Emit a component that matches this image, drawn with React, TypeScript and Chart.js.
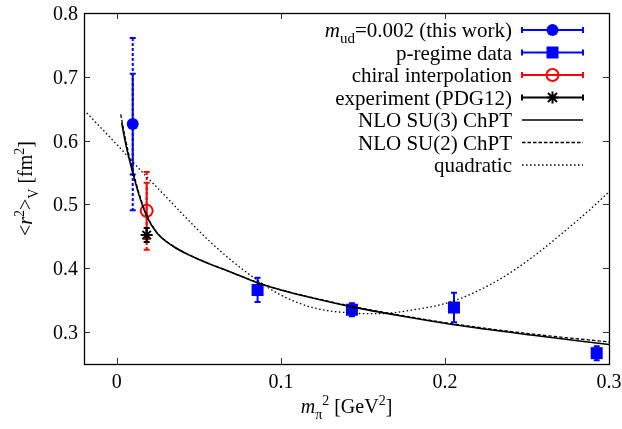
import React, { useEffect, useRef } from "react";
import { Chart, registerables } from "chart.js";

Chart.register(...registerables);

// ---------- data ----------
const xTicks = [0, 0.1, 0.2, 0.3];
const xTickLabels = ["0", "0.1", "0.2", "0.3"];
const yTicks = [0.3, 0.4, 0.5, 0.6, 0.7, 0.8];
const yTickLabels = ["0.3", "0.4", "0.5", "0.6", "0.7", "0.8"];

const thisWorkX = [0.0097];
const thisWorkY = [0.626];
const thisWorkStat = [0.079];
const thisWorkTotal = [0.135];

const pRegimeX = [0.0858, 0.1433, 0.2055, 0.2925];
const pRegimeY = [0.366, 0.335, 0.3385, 0.267];
const pRegimeErr = [0.019, 0.01, 0.023, 0.011];

const chiralX = [0.0182];
const chiralY = [0.49];
const chiralStat = [0.044];
const chiralTotal = [0.061];

const expX = [0.0182];
const expY = [0.452];
const expErr = [0.011];

const su3X = [0.003, 0.005, 0.0072, 0.0096, 0.0135, 0.018, 0.0242, 0.0343, 0.045, 0.0567, 0.07, 0.0858, 0.1, 0.12, 0.1433, 0.1726, 0.2055, 0.2537, 0.3];
const su3Y = [0.628, 0.6, 0.575, 0.551, 0.515, 0.483, 0.456, 0.4345, 0.4195, 0.4065, 0.3935, 0.3775, 0.366, 0.353, 0.3395, 0.3255, 0.3115, 0.295, 0.2805];

const su2X = [0.0024, 0.005, 0.0072, 0.0096, 0.0135, 0.018, 0.0242, 0.0343, 0.045, 0.0567, 0.07, 0.0858, 0.1, 0.12, 0.1433, 0.1726, 0.2055, 0.2537, 0.3];
const su2Y = [0.641, 0.606, 0.58, 0.555, 0.518, 0.485, 0.457, 0.435, 0.42, 0.4068, 0.3937, 0.3777, 0.3663, 0.3535, 0.3403, 0.3265, 0.3127, 0.2968, 0.2845];

const quadX = [-0.02, -0.01, 0, 0.01, 0.018, 0.03, 0.043, 0.0567, 0.07, 0.0858, 0.1, 0.12, 0.1433, 0.158, 0.18, 0.2055, 0.2315, 0.2518, 0.272, 0.2925, 0.3];
const quadY = [0.648, 0.621, 0.594, 0.566, 0.544, 0.512, 0.477, 0.442, 0.412, 0.381, 0.358, 0.338, 0.3298, 0.3288, 0.3345, 0.349, 0.38, 0.4145, 0.456, 0.5015, 0.52];

const legendLabels = [
  [{ t: "m", it: true }, { t: "ud", sub: true }, { t: "=0.002 (this work)" }],
  [{ t: "p-regime data" }],
  [{ t: "chiral interpolation" }],
  [{ t: "experiment (PDG12)" }],
  [{ t: "NLO SU(3) ChPT" }],
  [{ t: "NLO SU(2) ChPT" }],
  [{ t: "quadratic" }],
];
const yTitle = [{ t: "<" }, { t: "r", it: true }, { t: "2", sup: true }, { t: ">" }, { t: "V", sub: true }, { t: " [fm" }, { t: "2", sup: true }, { t: "]" }];
const xTitle = [{ t: "m", it: true }, { t: "π", sub: true }, { t: "2", sup: true }, { t: " [GeV" }, { t: "2", sup: true }, { t: "]" }];

// ---------- styling ----------
const BLUE = "#0000ff";
const RED = "#ff0000";
const BLACK = "#000000";
const FAM = "Liberation Serif";

type Seg = { t: string; it?: boolean; sub?: boolean; sup?: boolean };

function segFont(s: Seg, size: number) {
  const sz = s.sub || s.sup ? Math.round(size * 0.72) : size;
  return `${s.it ? "italic " : ""}${sz}px "${FAM}", serif`;
}
function richWidth(ctx: CanvasRenderingContext2D, segs: Seg[], size: number) {
  let w = 0;
  for (const s of segs) {
    ctx.font = segFont(s, size);
    w += ctx.measureText(s.t).width;
  }
  return w;
}
function drawRich(ctx: CanvasRenderingContext2D, segs: Seg[], x: number, y: number, size: number, align: "left" | "right" | "center") {
  const w = richWidth(ctx, segs, size);
  let cx = align === "left" ? x : align === "right" ? x - w : x - w / 2;
  ctx.textAlign = "left";
  ctx.textBaseline = "alphabetic";
  for (const s of segs) {
    ctx.font = segFont(s, size);
    const dy = s.sub ? size * 0.28 : s.sup ? -size * 0.42 : 0;
    ctx.fillText(s.t, cx, y + dy);
    cx += ctx.measureText(s.t).width;
  }
}

function drawMarker(ctx: CanvasRenderingContext2D, kind: string, px: number, py: number) {
  ctx.save();
  ctx.setLineDash([]);
  if (kind === "circle") {
    ctx.fillStyle = BLUE;
    ctx.beginPath();
    ctx.arc(px, py, 6, 0, Math.PI * 2);
    ctx.fill();
  } else if (kind === "square") {
    ctx.fillStyle = BLUE;
    ctx.fillRect(px - 6, py - 6, 12, 12);
  } else if (kind === "open") {
    ctx.strokeStyle = RED;
    ctx.lineWidth = 2;
    ctx.beginPath();
    ctx.arc(px, py, 6, 0, Math.PI * 2);
    ctx.stroke();
  } else if (kind === "star") {
    ctx.strokeStyle = BLACK;
    ctx.lineWidth = 2;
    ctx.beginPath();
    ctx.moveTo(px - 6, py); ctx.lineTo(px + 6, py);
    ctx.moveTo(px, py - 6); ctx.lineTo(px, py + 6);
    ctx.moveTo(px - 4.5, py - 4.5); ctx.lineTo(px + 4.5, py + 4.5);
    ctx.moveTo(px - 4.5, py + 4.5); ctx.lineTo(px + 4.5, py - 4.5);
    ctx.stroke();
  }
  ctx.restore();
}

const customPlugin = {
  id: "custom",
  beforeDatasetsDraw(chart: any) {
    const { ctx, chartArea, scales } = chart;
    const xs = scales.x, ys = scales.y;
    ctx.save();
    ctx.beginPath();
    ctx.rect(chartArea.left, chartArea.top, chartArea.right - chartArea.left, chartArea.bottom - chartArea.top);
    ctx.clip();
    const bar = (xv: number, yv: number, e: number, color: string, dash: number[], lw: number) => {
      const px = xs.getPixelForValue(xv);
      const top = ys.getPixelForValue(yv + e);
      const bot = ys.getPixelForValue(yv - e);
      ctx.strokeStyle = color;
      ctx.lineWidth = lw;
      ctx.setLineDash(dash);
      ctx.beginPath();
      ctx.moveTo(px, top);
      ctx.lineTo(px, bot);
      ctx.stroke();
      ctx.setLineDash([]);
      ctx.beginPath();
      ctx.moveTo(px - 3, top); ctx.lineTo(px + 3, top);
      ctx.moveTo(px - 3, bot); ctx.lineTo(px + 3, bot);
      ctx.stroke();
    };
    thisWorkX.forEach((xv, i) => {
      bar(xv, thisWorkY[i], thisWorkTotal[i], BLUE, [3, 2], 2);
      bar(xv, thisWorkY[i], thisWorkStat[i], BLUE, [], 2);
    });
    pRegimeX.forEach((xv, i) => bar(xv, pRegimeY[i], pRegimeErr[i], BLUE, [], 2));
    chiralX.forEach((xv, i) => {
      bar(xv, chiralY[i], chiralTotal[i], RED, [3, 2], 2);
      bar(xv, chiralY[i], chiralStat[i], RED, [], 2);
    });
    expX.forEach((xv, i) => bar(xv, expY[i], expErr[i], BLACK, [], 2));
    ctx.restore();
  },
  afterDatasetsDraw(chart: any) {
    const { ctx, chartArea, scales } = chart;
    const xs = scales.x, ys = scales.y;
    const { left, right, top, bottom } = chartArea;
    ctx.save();
    ctx.setLineDash([]);
    ctx.strokeStyle = "#333";
    ctx.lineWidth = 1;
    ctx.beginPath();
    for (const v of xTicks) {
      const px = Math.round(xs.getPixelForValue(v)) + 0.5;
      ctx.moveTo(px, bottom); ctx.lineTo(px, bottom - 6);
      ctx.moveTo(px, top); ctx.lineTo(px, top + 6);
    }
    for (const v of yTicks) {
      const py = Math.round(ys.getPixelForValue(v)) + 0.5;
      ctx.moveTo(left, py); ctx.lineTo(left + 6, py);
      ctx.moveTo(right, py); ctx.lineTo(right - 6, py);
    }
    ctx.stroke();
    ctx.strokeStyle = BLACK;
    ctx.lineWidth = 1.3;
    ctx.strokeRect(Math.round(left) + 0.5, Math.round(top) + 0.5, Math.round(right - left), Math.round(bottom - top));

    // tick labels (serif), placed through the scales
    ctx.fillStyle = BLACK;
    ctx.font = `20px "${FAM}", serif`;
    ctx.textAlign = "center";
    ctx.textBaseline = "alphabetic";
    xTicks.forEach((v, i) => {
      ctx.fillText(xTickLabels[i], xs.getPixelForValue(v), bottom + 24);
    });
    ctx.textAlign = "right";
    yTicks.forEach((v, i) => {
      ctx.fillText(yTickLabels[i], left - 6, ys.getPixelForValue(v) + 7);
    });

    // legend
    const textRight = 512;
    const s0 = 522, s1 = 583, sm = (s0 + s1) / 2;
    const markers = ["circle", "square", "open", "star", "solid", "dashed", "dotted"];
    const colors = [BLUE, BLUE, RED, BLACK, BLACK, BLACK, BLACK];
    legendLabels.forEach((segs, i) => {
      const cy = 30 + i * 22.5;
      ctx.fillStyle = BLACK;
      drawRich(ctx, segs as Seg[], textRight, cy + 7, 21, "right");
      const m = markers[i];
      ctx.strokeStyle = colors[i];
      if (i < 4) {
        ctx.lineWidth = 2;
        ctx.setLineDash([]);
        ctx.beginPath();
        ctx.moveTo(s0, cy); ctx.lineTo(s1, cy);
        ctx.moveTo(s0, cy - 3); ctx.lineTo(s0, cy + 3);
        ctx.moveTo(s1, cy - 3); ctx.lineTo(s1, cy + 3);
        ctx.stroke();
        drawMarker(ctx, m, sm, cy);
      } else {
        ctx.lineWidth = m === "solid" ? 1.5 : 1.3;
        ctx.setLineDash(m === "dashed" ? [3.5, 2] : m === "dotted" ? [1.5, 2.5] : []);
        ctx.beginPath();
        ctx.moveTo(s0, cy); ctx.lineTo(s1, cy);
        ctx.stroke();
        ctx.setLineDash([]);
      }
    });

    // axis titles
    ctx.fillStyle = BLACK;
    drawRich(ctx, xTitle as Seg[], (left + right) / 2, 413, 20, "center");
    ctx.save();
    ctx.translate(32, (top + bottom) / 2);
    ctx.rotate(-Math.PI / 2);
    drawRich(ctx, yTitle as Seg[], 0, 0, 20, "center");
    ctx.restore();
    ctx.restore();
  },
};

export default function App() {
  const ref = useRef<HTMLCanvasElement | null>(null);
  useEffect(() => {
    if (!ref.current) return;
    const pts = (xs: number[], ys: number[]) => xs.map((x, i) => ({ x, y: ys[i] }));
    const chart = new Chart(ref.current, {
      type: "scatter",
      data: {
        datasets: [
          { label: "m_ud=0.002 (this work)", data: pts(thisWorkX, thisWorkY), pointStyle: "circle", pointRadius: 6, backgroundColor: BLUE, borderColor: BLUE, borderWidth: 0, order: 5 },
          { label: "p-regime data", data: pts(pRegimeX, pRegimeY), pointStyle: "rect", pointRadius: 8.5, backgroundColor: BLUE, borderColor: BLUE, borderWidth: 0, order: 5 },
          { label: "chiral interpolation", data: pts(chiralX, chiralY), pointStyle: "circle", pointRadius: 6, backgroundColor: "rgba(0,0,0,0)", borderColor: RED, borderWidth: 2, order: 5 },
          { label: "experiment (PDG12)", data: pts(expX, expY), pointStyle: "star", pointRadius: 6, backgroundColor: BLACK, borderColor: BLACK, borderWidth: 2, order: 4 },
          { label: "NLO SU(3) ChPT", data: pts(su3X, su3Y), showLine: true, pointRadius: 0, borderColor: BLACK, borderWidth: 1.6, cubicInterpolationMode: "monotone", order: 1 } as any,
          { label: "NLO SU(2) ChPT", data: pts(su2X, su2Y), showLine: true, pointRadius: 0, borderColor: BLACK, borderWidth: 1.3, borderDash: [3.5, 2], cubicInterpolationMode: "monotone", order: 1 } as any,
          { label: "quadratic", data: pts(quadX, quadY), showLine: true, pointRadius: 0, borderColor: BLACK, borderWidth: 1.3, borderDash: [1.5, 2.5], cubicInterpolationMode: "monotone", order: 1 } as any,
        ],
      },
      options: {
        animation: false,
        responsive: false,
        maintainAspectRatio: false,
        devicePixelRatio: 1,
        events: [],
        layout: { padding: { top: 13, right: 13, left: 0, bottom: 0 } },
        plugins: { legend: { display: false }, tooltip: { enabled: false } },
        scales: {
          x: {
            type: "linear",
            min: -0.02,
            max: 0.3,
            grid: { display: false, drawTicks: false },
            border: { display: false },
            ticks: { display: false },
            afterBuildTicks: (s: any) => { s.ticks = xTicks.map((value) => ({ value })); },
            afterFit: (s: any) => { s.height = 65; },
          },
          y: {
            type: "linear",
            min: 0.25,
            max: 0.8,
            grid: { display: false, drawTicks: false },
            border: { display: false },
            ticks: { display: false },
            afterBuildTicks: (s: any) => { s.ticks = yTicks.map((value) => ({ value })); },
            afterFit: (s: any) => { s.width = 84; },
          },
        },
      },
      plugins: [customPlugin],
    } as any);
    return () => chart.destroy();
  }, []);
  return (
    <div style={{ position: "absolute", left: 0, top: 0, width: 622, height: 429, background: "#fff" }}>
      <canvas ref={ref} width={622} height={429} style={{ display: "block", width: 622, height: 429 }} />
    </div>
  );
}
